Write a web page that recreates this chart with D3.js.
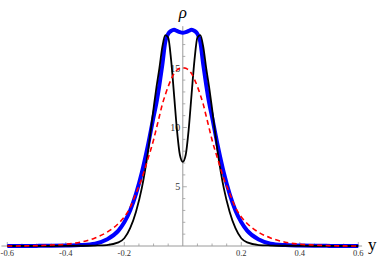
<!DOCTYPE html>
<html><head><meta charset="utf-8">
<script src="https://cdn.jsdelivr.net/npm/d3@7"></script>
<style>body{margin:0;background:#fff}svg{display:block}</style>
</head><body>
<script>
const xs = [-0.6,-0.5,-0.45,-0.4,-0.35,-0.3,-0.26,-0.22,-0.2,-0.18,-0.16,-0.14,-0.12,-0.1,-0.09,-0.08,-0.07,-0.06,-0.05,-0.04,-0.03,-0.02,-0.01,0,
  0.01,0.02,0.03,0.04,0.05,0.06,0.07,0.08,0.09,0.1,0.12,0.14,0.16,0.18,0.2,0.22,0.26,0.3,0.35,0.4,0.45,0.5,0.6];
const blackVals = [0,0,0,0.01,0.02,0.04,0.08,0.3,0.65,1.5,2.9,4.9,7.8,11.6,13.4,15.0,16.8,17.8,17.6,15.7,12.8,9.8,7.7,7.1,
  7.7,9.8,12.8,15.7,17.6,17.8,16.8,15.0,13.4,11.6,7.8,4.9,2.9,1.5,0.65,0.3,0.08,0.04,0.02,0.01,0,0,0];
const blueVals = [0,0.01,0.02,0.04,0.08,0.2,0.55,1.3,2.0,3.0,4.4,6.2,8.4,10.9,12.1,13.6,15.3,17.2,17.9,18.15,18.25,18.15,18.05,18.0,
  18.05,18.15,18.25,18.15,17.9,17.2,15.3,13.6,12.1,10.9,8.4,6.2,4.4,3.0,2.0,1.3,0.55,0.2,0.08,0.04,0.02,0.01,0];
const redVals = [0,0.03,0.08,0.15,0.32,0.68,1.15,1.9,2.45,3.25,4.45,5.7,7.3,8.95,9.95,10.95,11.95,12.75,13.45,14.05,14.55,14.85,15.0,15.05,
  15.0,14.85,14.55,14.05,13.45,12.75,11.95,10.95,9.95,8.95,7.3,5.7,4.45,3.25,2.45,1.9,1.15,0.68,0.32,0.15,0.08,0.03,0];
const xTickLabels = [-0.6,-0.4,-0.2,0.2,0.4,0.6];
const yTickLabels = [5,10,15];

const W = 382, H = 261;
const svg = d3.select("body").append("svg").attr("width", W).attr("height", H);
const x = d3.scaleLinear().domain([-0.6, 0.6]).range([7.3, 358.3]);
const y = d3.scaleLinear().domain([0, 18]).range([246, 32.7]);
const axisColor = "#9a9a9a";
const font = "Liberation Serif, Times New Roman, serif";

// x axis line
svg.append("line").attr("x1", x(-0.62)).attr("x2", x(0.613)).attr("y1", y(0)).attr("y2", y(0))
  .attr("stroke", axisColor).attr("stroke-width", 1);
// y axis line
svg.append("line").attr("x1", x(0)).attr("x2", x(0)).attr("y1", y(0)).attr("y2", y(18.55))
  .attr("stroke", axisColor).attr("stroke-width", 1);

// x ticks
const xMinor = d3.range(-12, 13).map(i => i * 0.05).filter(v => Math.abs(v) > 1e-9);
svg.selectAll(".xt").data(xMinor).enter().append("line")
  .attr("x1", d => x(d)).attr("x2", d => x(d))
  .attr("y1", y(0)).attr("y2", d => y(0) - (Math.abs(Math.round(d*100)) % 20 === 0 ? 4 : 2.5))
  .attr("stroke", axisColor).attr("stroke-width", 0.8);
svg.selectAll(".xl").data(xTickLabels).enter().append("text")
  .attr("x", d => x(d)).attr("y", y(0) + 10)
  .attr("text-anchor", "middle").attr("font-family", font).attr("font-size", 8.5)
  .attr("fill", "#333").text(d => d.toFixed(1));

// y ticks
const yMinor = d3.range(1, 19);
svg.selectAll(".yt").data(yMinor).enter().append("line")
  .attr("x1", x(0)).attr("x2", d => x(0) + (d % 5 === 0 ? 4 : 2.5))
  .attr("y1", d => y(d)).attr("y2", d => y(d))
  .attr("stroke", axisColor).attr("stroke-width", 0.8);
svg.selectAll(".yl").data(yTickLabels).enter().append("text")
  .attr("x", x(0) - 2.5).attr("y", d => y(d) + 3.5)
  .attr("text-anchor", "end").attr("font-family", font).attr("font-size", 10)
  .attr("fill", "#333").text(d => d);

// curves
const line = vals => d3.line().x((d, i) => x(xs[i])).y(d => y(d)).curve(d3.curveMonotoneX)(vals);
svg.append("path").attr("d", line(blueVals)).attr("fill", "none").attr("stroke", "#0000ff").attr("stroke-width", 4).attr("stroke-linejoin", "round");
svg.append("path").attr("d", line(blackVals)).attr("fill", "none").attr("stroke", "#000").attr("stroke-width", 1.8);
svg.append("path").attr("d", line(redVals)).attr("fill", "none").attr("stroke", "#ff0000").attr("stroke-width", 1.6).attr("stroke-dasharray", "5,3.5");

// axis labels
svg.append("text").attr("x", 368).attr("y", 250).attr("font-family", font).attr("font-size", 17).attr("fill", "#000").text("y");
svg.append("text").attr("x", x(0)).attr("y", 18).attr("text-anchor", "middle").attr("font-family", font).attr("font-style", "italic").attr("font-size", 17).attr("fill", "#000").text("ρ");
</script>
</body></html>
